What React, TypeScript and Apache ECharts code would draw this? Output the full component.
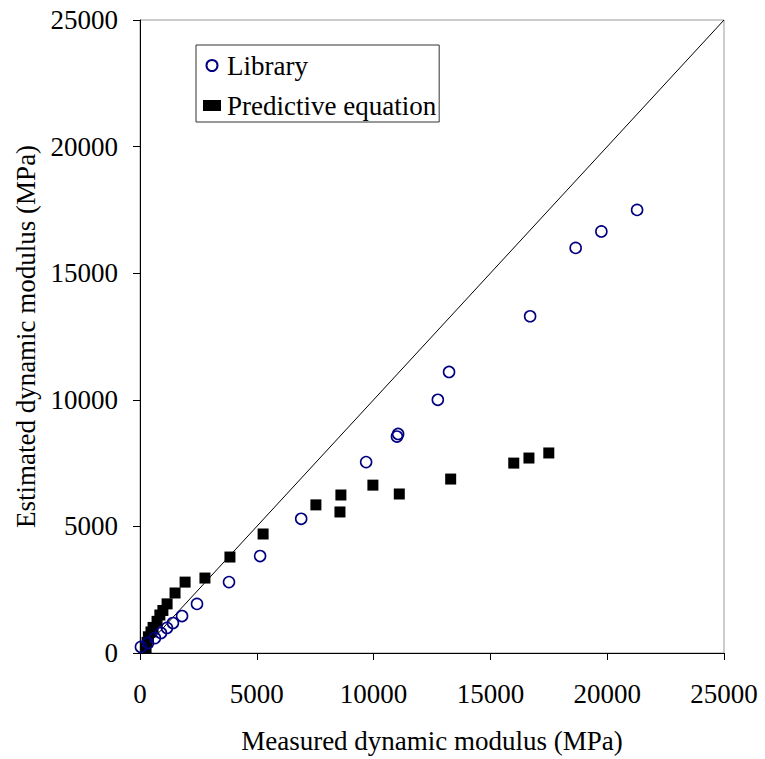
import React, { useEffect, useRef } from "react";
import * as echarts from "echarts";

const libraryX = [40, 340, 640, 900, 1155, 1410, 1800, 2440, 3810, 5140, 6900, 9680, 11000, 11050, 12750, 13230, 16700, 18650, 19750, 21280];
const libraryY = [240, 395, 590, 790, 990, 1185, 1460, 1940, 2800, 3830, 5300, 7540, 8550, 8650, 10000, 11100, 13300, 16000, 16650, 17500];

const predX = [260, 300, 360, 470, 560, 730, 850, 980, 1160, 1500, 1930, 2780, 3850, 5270, 7530, 8560, 8600, 9970, 11100, 13300, 16000, 16650, 17500];
const predY = [210, 420, 640, 830, 1010, 1250, 1500, 1680, 1940, 2370, 2800, 2960, 3790, 4700, 5850, 5570, 6240, 6630, 6280, 6870, 7500, 7700, 7900];

const equalityLine = [[0, 0], [25000, 25000]];

const FONT = "'Liberation Serif', 'Times New Roman', serif";

export default function App() {
  const ref = useRef<HTMLDivElement>(null);
  useEffect(() => {
    if (!ref.current) return;
    const chart = echarts.init(ref.current, null, { renderer: "svg" });
    const axisCommon = {
      type: "value",
      min: 0,
      max: 25000,
      interval: 5000,
      nameLocation: "middle",
      nameTextStyle: { fontFamily: FONT, fontSize: 27, color: "#000" },
      axisLine: { show: true, lineStyle: { color: "#000", width: 1 } },
      axisTick: { show: true, inside: false, length: 7, lineStyle: { color: "#000" } },
      splitLine: { show: false },
      axisLabel: { fontFamily: FONT, fontSize: 27, color: "#000", formatter: (v: number) => String(v) },
    };
    chart.setOption({
      animation: false,
      backgroundColor: "#fff",
      grid: {
        left: 140,
        top: 20,
        width: 584,
        height: 633,
        show: true,
        borderColor: "#999",
        borderWidth: 1,
        backgroundColor: "transparent",
      },
      xAxis: {
        ...axisCommon,
        name: "Measured dynamic modulus (MPa)",
        nameGap: 74,
        axisLabel: { ...axisCommon.axisLabel, margin: 27 },
      },
      yAxis: {
        ...axisCommon,
        name: "Estimated dynamic modulus (MPa)",
        nameGap: 99,
        axisLabel: { ...axisCommon.axisLabel, margin: 22 },
      },
      legend: {
        data: ["Library", "Predictive equation"],
        orient: "vertical",
        left: 196,
        top: 45,
        itemWidth: 18,
        itemHeight: 11,
        itemGap: 13,
        padding: [7, 3, 3, 7],
        borderColor: "#333",
        borderWidth: 1,
        backgroundColor: "#fff",
        textStyle: { fontFamily: FONT, fontSize: 27, color: "#000", padding: [0, 0, 0, 1] },
      },
      series: [
        {
          name: "equality",
          type: "line",
          data: equalityLine,
          symbol: "none",
          lineStyle: { color: "#000", width: 1 },
          silent: true,
          z: 1,
        },
        {
          name: "Predictive equation",
          type: "scatter",
          data: predX.map((x, i) => [x, predY[i]]),
          symbol: "rect",
          symbolSize: 11,
          itemStyle: { color: "#000", opacity: 1 },
          z: 2,
        },
        {
          name: "Library",
          type: "scatter",
          data: libraryX.map((x, i) => [x, libraryY[i]]),
          symbol: "circle",
          symbolSize: 11,
          itemStyle: { color: "transparent", borderColor: "#000080", borderWidth: 1.6, opacity: 1 },
          z: 3,
        },
      ],
    });
    return () => chart.dispose();
  }, []);
  return (
    <div
      ref={ref}
      style={{ position: "fixed", left: 0, top: 0, width: 765, height: 759, background: "#fff" }}
    />
  );
}
